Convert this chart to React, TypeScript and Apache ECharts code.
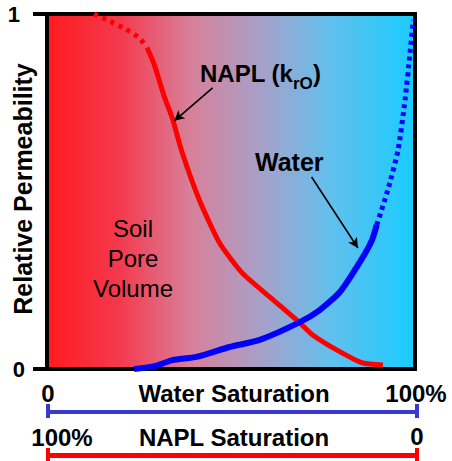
import React, { useEffect, useRef } from "react";
import * as echarts from "echarts";

// Water saturation (%) and relative permeability values
const naplDottedSw = [12.8, 16.3, 21.0, 25.1, 27.2];
const naplDottedKr = [1.0, 0.983, 0.96, 0.932, 0.905];
const naplSolidSw = [27.2, 29.2, 31.9, 34.1, 36.5, 41.4, 46.9, 53.1, 60.5, 68.7, 72.2, 78.7, 85.8, 91.3];
const naplSolidKr = [0.905, 0.856, 0.766, 0.705, 0.617, 0.476, 0.355, 0.27, 0.203, 0.13, 0.096, 0.054, 0.017, 0.011];
const waterSolidSw = [23.7, 29.2, 34.1, 40.6, 49.6, 57.8, 68.7, 74.1, 79.6, 85.0, 88.3, 89.6];
const waterSolidKr = [0.0, 0.008, 0.025, 0.034, 0.062, 0.082, 0.132, 0.166, 0.217, 0.301, 0.363, 0.406];
const waterDottedSw = [89.6, 92.6, 95.4, 97.3, 98.6, 99.5];
const waterDottedKr = [0.406, 0.504, 0.617, 0.758, 0.885, 0.983];

// annotation arrows (data coordinates): [fromSw, fromKr, toSw, toKr]
const naplArrow = [45.0, 0.792, 34.6, 0.699];
const waterArrow = [71.9, 0.541, 84.5, 0.341];

const yTicks = ["0", "1"];
const waterAxisLabels = ["0", "Water Saturation", "100%"];
const naplAxisLabels = ["100%", "NAPL Saturation", "0"];

const FONT = '"Liberation Sans", Arial, Helvetica, sans-serif';

const zip = (a: number[], b: number[]) => a.map((v, i) => [v, b[i]]);

function txt(x: number, y: number, text: string, size: number, opts: any = {}) {
  const align = opts.align || "center";
  const valign = opts.valign || "middle";
  return {
    type: "text",
    x,
    y,
    rotation: opts.rotation || 0,
    silent: true,
    style: {
      text,
      fill: "#000",
      font: `${opts.weight || "bold"} ${size}px ${FONT}`,
      fontSize: size,
      fontWeight: opts.weight || "bold",
      fontFamily: FONT,
      lineHeight: opts.lineHeight,
      textAlign: align,
      align,
      textVerticalAlign: valign,
      verticalAlign: valign,
    },
  };
}

function hline(x1: number, y1: number, x2: number, y2: number, color: string, w: number) {
  return {
    type: "line",
    silent: true,
    shape: { x1, y1, x2, y2 },
    style: { stroke: color, lineWidth: w },
  };
}

export default function App() {
  const ref = useRef<HTMLDivElement>(null);
  useEffect(() => {
    if (!ref.current) return;
    const chart = echarts.init(ref.current, undefined, { renderer: "svg" });
    const arrowLine = (a: number[]) => ({
      silent: true,
      symbol: ["none", "arrow"],
      symbolSize: [8, 10],
      label: { show: false },
      lineStyle: { color: "#000", width: 1.6, type: "solid" },
      animation: false,
      data: [[{ coord: [a[0], a[1]] }, { coord: [a[2], a[3]] }]],
    });
    const blue = "#3838d2";
    chart.setOption({
      animation: false,
      grid: {
        left: 47,
        right: 37,
        top: 14,
        bottom: 92,
        show: true,
        borderColor: "#000",
        borderWidth: 4,
        backgroundColor: new echarts.graphic.LinearGradient(0, 0, 1, 0, [
          { offset: 0, color: "#ff1a1f" },
          { offset: 0.2, color: "#f43a4e" },
          { offset: 0.39, color: "#d8809a" },
          { offset: 0.58, color: "#a8a0c8" },
          { offset: 0.77, color: "#62c0ee" },
          { offset: 1, color: "#18ccff" },
        ]),
      },
      xAxis: { type: "value", min: 0, max: 100, show: false },
      yAxis: {
        type: "value",
        min: 0,
        max: 1,
        interval: 1,
        splitLine: { show: false },
        axisLine: { show: false },
        axisTick: { show: true, length: 14, lineStyle: { color: "#000", width: 4 } },
        axisLabel: {
          margin: 22,
          color: "#000",
          fontSize: 22,
          fontWeight: "bold",
          fontFamily: FONT,
          formatter: (v: number) => (v === 1 ? `{one|${yTicks[1]}}` : `{zero|${yTicks[0]}}`),
          rich: {
            one: { fontSize: 22, fontWeight: "bold", fontFamily: FONT, color: "#000", padding: [0, 5, 0, 0] },
            zero: { fontSize: 22, fontWeight: "bold", fontFamily: FONT, color: "#000" },
          },
        },
      },
      series: [
        {
          type: "line",
          data: zip(naplSolidSw, naplSolidKr),
          showSymbol: false,
          smooth: 0.2,
          lineStyle: { color: "#ff0000", width: 5 },
          markLine: arrowLine(naplArrow),
          z: 3,
        },
        {
          type: "line",
          data: zip(naplDottedSw, naplDottedKr),
          showSymbol: false,
          smooth: 0.2,
          lineStyle: { color: "#ff0000", width: 5, type: [4, 5] },
          z: 3,
        },
        {
          type: "line",
          data: zip(waterSolidSw, waterSolidKr),
          showSymbol: false,
          smooth: 0.2,
          lineStyle: { color: "#0000ff", width: 6 },
          markLine: arrowLine(waterArrow),
          z: 4,
        },
        {
          type: "line",
          data: zip(waterDottedSw, waterDottedKr),
          showSymbol: false,
          smooth: 0.2,
          lineStyle: { color: "#0000ff", width: 5, type: [4, 4] },
          z: 4,
        },
      ],
      graphic: [
        txt(23, 189, "Relative Permeability", 25, { rotation: Math.PI / 2 }),
        txt(200, 73, "NAPL (k", 24, { align: "left" }),
        txt(293, 83, "rO", 17, { align: "left" }),
        txt(313, 73, ")", 24, { align: "left" }),
        txt(255, 162, "Water", 25, { align: "left" }),
        txt(133, 258, "Soil\nPore\nVolume", 24, { weight: "normal", lineHeight: 30 }),
        txt(48, 393, waterAxisLabels[0], 24),
        txt(234, 393, waterAxisLabels[1], 24),
        txt(416, 393, waterAxisLabels[2], 24),
        txt(62, 437, naplAxisLabels[0], 24),
        txt(234, 437, naplAxisLabels[1], 24),
        txt(417, 436, naplAxisLabels[2], 24),
        hline(46, 412, 419, 412, blue, 4),
        hline(48, 404, 48, 418, blue, 4),
        hline(417, 404, 417, 418, blue, 4),
        hline(46, 455.5, 419, 455.5, "#ff0000", 5),
        hline(48, 448, 48, 461, "#ff0000", 4),
        hline(417, 448, 417, 461, "#ff0000", 4),
      ],
    });
    return () => chart.dispose();
  }, []);
  return <div ref={ref} style={{ width: 452, height: 461, position: "absolute", left: 0, top: 0 }} />;
}
